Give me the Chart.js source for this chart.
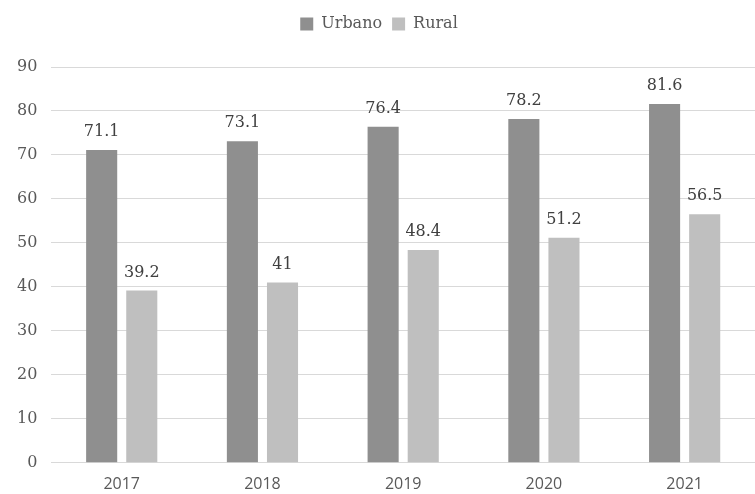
<!DOCTYPE html>
<html>
<head>
<meta charset="utf-8">
<script src="https://cdn.jsdelivr.net/npm/chart.js@4/dist/chart.umd.min.js"></script>
<style>
  html, body { margin: 0; padding: 0; background: #fff; }
  #wrap { width: 755px; height: 494px; }
</style>
</head>
<body>
<div id="wrap"><canvas id="c"></canvas></div>
<script>
const years = ["2017", "2018", "2019", "2020", "2021"];
const urbano = [71.1, 73.1, 76.4, 78.2, 81.6];
const rural = [39.2, 41, 48.4, 51.2, 56.5];

const serif = "'DejaVu Serif', 'Liberation Serif', serif";

// draws the value above each bar (no datalabels plugin available)
const barLabels = {
  id: "barLabels",
  afterDatasetsDraw(chart) {
    const ctx = chart.ctx;
    ctx.save();
    ctx.font = "16px " + serif;
    ctx.fillStyle = "#404040";
    ctx.textAlign = "center";
    ctx.textBaseline = "bottom";
    chart.data.datasets.forEach((ds, i) => {
      chart.getDatasetMeta(i).data.forEach((bar, j) => {
        ctx.fillText(String(ds.data[j]), bar.x, bar.y - 10);
      });
    });
    ctx.restore();
  }
};

// extra space under the legend
const legendGap = {
  id: "legendGap",
  beforeInit(chart) {
    const fit = chart.legend.fit;
    chart.legend.fit = function () {
      fit.bind(this)();
      this.height += 25;
    };
  }
};

new Chart(document.getElementById("c"), {
  type: "bar",
  data: {
    labels: years,
    datasets: [
      { label: "Urbano", data: urbano, backgroundColor: "#8f8f8f" },
      { label: "Rural", data: rural, backgroundColor: "#bfbfbf" }
    ]
  },
  options: {
    responsive: true,
    maintainAspectRatio: false,
    animation: false,
    categoryPercentage: 0.57,
    barPercentage: 0.775,
    layout: { padding: { left: 3, right: 0, top: 6, bottom: -4 } },
    plugins: {
      legend: {
        position: "top",
        labels: {
          boxWidth: 13,
          boxHeight: 13,
          padding: 10,
          color: "#595959",
          font: { family: serif, size: 16 }
        }
      },
      tooltip: { enabled: false }
    },
    scales: {
      x: {
        grid: { display: false },
        border: { display: false },
        ticks: { color: "#595959", font: { family: "'Open Sans', sans-serif", size: 16 }, padding: 4 }
      },
      y: {
        min: 0,
        max: 90,
        ticks: { stepSize: 10, color: "#595959", font: { family: serif, size: 16 }, padding: 14 },
        grid: { color: "#d9d9d9", drawTicks: false },
        border: { display: false }
      }
    }
  },
  plugins: [barLabels, legendGap]
});
</script>
</body>
</html>
